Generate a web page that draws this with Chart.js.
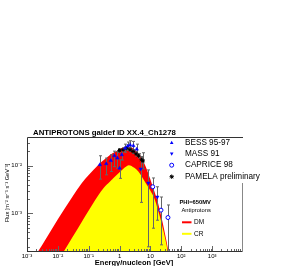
<!DOCTYPE html>
<html>
<head>
<meta charset="utf-8">
<script src="https://cdn.jsdelivr.net/npm/chart.js@4/dist/chart.umd.min.js"></script>
<style>
  html, body { margin: 0; padding: 0; background: #fff; }
  canvas { display: block; }
</style>
</head>
<body>
<canvas id="c" width="291" height="266"></canvas>
<script>
// model curves (energy in GeV, flux in m^-2 sr^-1 s^-1 GeV^-1)
const energy = [0.001, 0.003, 0.01, 0.03, 0.06, 0.1, 0.2, 0.3, 0.5, 0.7, 1, 1.5, 2, 3, 4, 5, 7, 10, 14, 17, 20, 25, 30, 35, 38, 45];
const dmFlux = [7e-5, 2.1e-4, 7.5e-4, 2.26e-3, 4.33e-3, 6.38e-3, 0.0102, 0.01285, 0.0169, 0.0191, 0.022, 0.0243, 0.0246, 0.022, 0.01845, 0.0151, 0.0096, 0.0051, 0.00267, 0.00182, 0.00119, 0.00064, 0.000361, 0.000219, 0.000158, 0.00005];
const crFlux = [9e-6, 2.8e-5, 1.0e-4, 3.2e-4, 6.7e-4, 1.15e-3, 2.35e-3, 3.34e-3, 4.67e-3, 5.85e-3, 0.0072, 0.0092, 0.0102, 0.009, 0.00756, 0.0062, 0.0043, 0.00296, 0.00191, 0.00126, 0.00088, 0.000498, 0.000299, 0.00018, 0.00011, 0.00003];

// measurements
const bessE = [0.23, 0.37, 0.52, 0.68, 0.85, 1.0, 1.18, 1.51, 1.84, 2.19, 2.8, 3.6];
const bessFlux = [0.0104, 0.0109, 0.0127, 0.016, 0.0143, 0.0088, 0.0168, 0.0231, 0.0255, 0.027, 0.026, 0.022];
const bessLow = [0.0052, 0.0064, 0.0075, 0.0095, 0.0088, 0.0054, 0.013, 0.019, 0.021, 0.022, 0.021, 0.017];
const bessHigh = [0.016, 0.0143, 0.0168, 0.020, 0.0197, 0.0132, 0.021, 0.028, 0.031, 0.033, 0.032, 0.028];

const massE = [4.85, 8.6, 16.7];
const massFlux = [0.0085, 0.0043, 0.0022];
const massLow = [0.0017, 0.0002, 0.00072];
const massHigh = [0.0154, 0.0081, 0.0036];

const capriceE = [11.9, 22, 37];
const capriceFlux = [0.0036, 0.00117, 0.00082];
const capriceLow = [0.00049, 0.00022, 0.00017];
const capriceHigh = [0.0055, 0.0022, 0.0015];

const pamelaE = [0.99, 1.3, 1.69, 2.19, 2.74, 3.42, 4.12, 5.15, 5.75];
const pamelaFlux = [0.0207, 0.0214, 0.023, 0.0214, 0.0197, 0.0176, 0.016, 0.0132, 0.0125];
const pamelaLow = [0.0188, 0.0195, 0.021, 0.0195, 0.0178, 0.0158, 0.0143, 0.0114, 0.0085];
const pamelaHigh = [0.0226, 0.0233, 0.025, 0.0233, 0.0216, 0.0194, 0.0177, 0.0152, 0.0185];

// axes
const xTickValues = [1e-3, 1e-2, 1e-1, 1, 10, 100, 1000];
const xTickLabels = ['10⁻³', '10⁻²', '10⁻¹', '1', '10', '10²', '10³'];
const yTickValues = [1e-3, 1e-2];
const yTickLabels = ['10⁻³', '10⁻²'];

const FONT = 'Liberation Sans, Arial, sans-serif';
const BLUE = '#0000ff';

const pts = (xs, ys) => xs.map((x, i) => ({ x: x, y: ys[i] }));

function pointSet(label, xs, ys, lo, hi, style) {
  return Object.assign({
    label: label,
    data: pts(xs, ys),
    showLine: false,
    errLow: lo,
    errHigh: hi,
    order: 0
  }, style);
}

const datasets = [
  pointSet('BESS 95-97', bessE, bessFlux, bessLow, bessHigh,
    { pointStyle: 'triangle', pointRadius: 2, backgroundColor: BLUE, borderColor: BLUE, borderWidth: 0.5 }),
  pointSet('MASS 91', massE, massFlux, massLow, massHigh,
    { pointStyle: 'triangle', rotation: 180, pointRadius: 2, backgroundColor: BLUE, borderColor: BLUE, borderWidth: 0.5 }),
  pointSet('CAPRICE 98', capriceE, capriceFlux, capriceLow, capriceHigh,
    { pointStyle: 'circle', pointRadius: 2, backgroundColor: '#fff', borderColor: BLUE, borderWidth: 1 }),
  pointSet('PAMELA preliminary', pamelaE, pamelaFlux, pamelaLow, pamelaHigh,
    { pointStyle: 'star', pointRadius: 2, backgroundColor: '#000', borderColor: '#000', borderWidth: 1 }),
  {
    label: 'CR',
    data: pts(energy, crFlux),
    borderWidth: 0,
    borderColor: '#ffff00',
    backgroundColor: '#ffff00',
    fill: 'start',
    pointRadius: 0,
    cubicInterpolationMode: 'monotone',
    order: 1
  },
  {
    label: 'DM',
    data: pts(energy, dmFlux),
    borderWidth: 0,
    borderColor: '#ff0000',
    backgroundColor: '#ff0000',
    fill: 'start',
    pointRadius: 0,
    cubicInterpolationMode: 'monotone',
    order: 2
  }
];

// error bars, drawn right after the CR band so markers sit on top
const errorBars = {
  id: 'errorBars',
  afterDatasetDraw(chart, args) {
    if (chart.data.datasets[args.index].label !== 'CR') return;
    const ctx = chart.ctx, xs = chart.scales.x, ys = chart.scales.y, a = chart.chartArea;
    ctx.save();
    ctx.beginPath();
    ctx.rect(a.left, a.top, a.right - a.left, a.bottom - a.top);
    ctx.clip();
    ctx.strokeStyle = '#666';
    ctx.lineWidth = 1;
    chart.data.datasets.forEach(ds => {
      if (!ds.errLow) return;
      ds.data.forEach((p, i) => {
        const x = Math.round(xs.getPixelForValue(p.x)) + 0.5;
        const y1 = ys.getPixelForValue(ds.errLow[i]);
        const y2 = ys.getPixelForValue(ds.errHigh[i]);
        ctx.beginPath();
        ctx.moveTo(x, y1); ctx.lineTo(x, y2);
        ctx.moveTo(x - 1.5, y1); ctx.lineTo(x + 1.5, y1);
        ctx.moveTo(x - 1.5, y2); ctx.lineTo(x + 1.5, y2);
        ctx.stroke();
      });
    });
    ctx.restore();
  }
};

function marker(ctx, kind, x, y) {
  ctx.save();
  if (kind === 'up' || kind === 'down') {
    const s = kind === 'up' ? -1 : 1;
    ctx.fillStyle = BLUE;
    ctx.beginPath();
    ctx.moveTo(x, y + s * 2);
    ctx.lineTo(x - 1.8, y - s * 1.2);
    ctx.lineTo(x + 1.8, y - s * 1.2);
    ctx.closePath();
    ctx.fill();
  } else if (kind === 'circle') {
    ctx.strokeStyle = BLUE;
    ctx.lineWidth = 1;
    ctx.beginPath();
    ctx.arc(x, y, 2, 0, Math.PI * 2);
    ctx.stroke();
  } else {
    ctx.strokeStyle = '#000';
    ctx.lineWidth = 1;
    ctx.beginPath();
    for (let k = 0; k < 4; k++) {
      const t = k * Math.PI / 4;
      ctx.moveTo(x - 2.2 * Math.cos(t), y - 2.2 * Math.sin(t));
      ctx.lineTo(x + 2.2 * Math.cos(t), y + 2.2 * Math.sin(t));
    }
    ctx.stroke();
  }
  ctx.restore();
}

const decor = {
  id: 'decor',
  afterDraw(chart) {
    const ctx = chart.ctx, a = chart.chartArea, xs = chart.scales.x, ys = chart.scales.y;
    ctx.save();

    // minor / major ticks, pointing inwards
    ctx.strokeStyle = '#666';
    ctx.lineWidth = 1;
    ctx.beginPath();
    for (let e = -3; e <= 3; e++) {
      for (let m = 1; m <= 9; m++) {
        const v = m * Math.pow(10, e);
        const x = Math.round(xs.getPixelForValue(v)) + 0.5;
        const len = m === 1 ? 6 : 3;
        ctx.moveTo(x, a.bottom); ctx.lineTo(x, a.bottom - len);
      }
    }
    for (let e = -4; e <= -2; e++) {
      for (let m = 1; m <= 9; m++) {
        const v = m * Math.pow(10, e);
        if (v < ys.min || v > ys.max) continue;
        const y = Math.round(ys.getPixelForValue(v)) + 0.5;
        const len = m === 1 ? 6 : 3;
        ctx.moveTo(a.left, y); ctx.lineTo(a.left + len, y);
      }
    }
    ctx.stroke();

    // frame
    ctx.strokeStyle = '#333';
    ctx.beginPath();
    ctx.moveTo(a.left + 0.5, a.bottom); ctx.lineTo(a.left + 0.5, a.top + 0.5);
    ctx.lineTo(a.right, a.top + 0.5);
    ctx.moveTo(a.left, a.bottom - 0.5); ctx.lineTo(a.right, a.bottom - 0.5);
    ctx.stroke();
    ctx.strokeStyle = '#888';
    ctx.beginPath();
    ctx.moveTo(a.right - 0.5, 183); ctx.lineTo(a.right - 0.5, a.bottom);
    ctx.stroke();

    // title
    ctx.fillStyle = '#000';
    ctx.textBaseline = 'middle';
    ctx.textAlign = 'left';
    ctx.font = 'bold 7.8px ' + FONT;
    ctx.fillText('ANTIPROTONS galdef ID XX.4_Ch1278', 33, 132.5);

    // axis titles
    ctx.textAlign = 'center';
    ctx.font = 'bold 7.5px ' + FONT;
    ctx.fillText('Energy/nucleon [GeV]', 134, 262.5);
    ctx.save();
    ctx.translate(7.5, 193);
    ctx.rotate(-Math.PI / 2);
    ctx.font = '5.6px ' + FONT;
    ctx.fillText('Flux [m⁻² sr⁻¹ s⁻¹ GeV⁻¹]', 0, 0);
    ctx.restore();

    // data legend
    ctx.fillStyle = '#fff';
    ctx.fillRect(163, 138.5, 84, 44);
    const entries = [['up', 'BESS 95-97', 142.7], ['down', 'MASS 91', 153.8], ['circle', 'CAPRICE 98', 165.2], ['star', 'PAMELA preliminary', 176.7]];
    ctx.font = '8.2px ' + FONT;
    ctx.textAlign = 'left';
    entries.forEach(en => {
      marker(ctx, en[0], 171.7, en[2]);
      ctx.fillStyle = '#000';
      ctx.fillText(en[1], 185, en[2]);
    });

    // model legend
    ctx.font = 'bold 5.8px ' + FONT;
    ctx.fillText('PHI=650MV', 179.5, 202.3);
    ctx.font = '5.8px ' + FONT;
    ctx.fillText('Antiprotons', 181.5, 210.5);
    ctx.font = '6.5px ' + FONT;
    ctx.lineWidth = 2;
    ctx.strokeStyle = '#ff0000';
    ctx.beginPath(); ctx.moveTo(182, 222.3); ctx.lineTo(191.5, 222.3); ctx.stroke();
    ctx.fillText('DM', 194, 222.5);
    ctx.strokeStyle = '#ffff00';
    ctx.beginPath(); ctx.moveTo(182, 233.8); ctx.lineTo(191.5, 233.8); ctx.stroke();
    ctx.fillText('CR', 194, 234);

    ctx.restore();
  }
};

new Chart(document.getElementById('c').getContext('2d'), {
  type: 'line',
  data: { datasets: datasets },
  options: {
    responsive: false,
    animation: false,
    devicePixelRatio: 1,
    layout: { padding: { left: 0, top: 137, right: 48, bottom: 0 } },
    plugins: { legend: { display: false }, tooltip: { enabled: false }, title: { display: false } },
    scales: {
      x: {
        type: 'logarithmic',
        min: 1e-3,
        max: 1e4,
        grid: { display: false, drawTicks: false },
        border: { display: false },
        afterBuildTicks: s => { s.ticks = xTickValues.map(v => ({ value: v })); },
        afterFit: s => { s.height = 14; },
        ticks: {
          autoSkip: false,
          maxRotation: 0,
          padding: 1,
          color: '#000',
          font: { family: FONT, size: 6 },
          callback: (v, i) => xTickLabels[i]
        }
      },
      y: {
        type: 'logarithmic',
        min: 1.56e-4,
        max: 0.0395,
        grid: { display: false, drawTicks: false },
        border: { display: false },
        afterBuildTicks: s => { s.ticks = yTickValues.map(v => ({ value: v })); },
        afterFit: s => { s.width = 27; },
        ticks: {
          autoSkip: false,
          padding: 5,
          color: '#000',
          font: { family: FONT, size: 6 },
          callback: (v, i) => yTickLabels[i]
        }
      }
    }
  },
  plugins: [errorBars, decor]
});
</script>
</body>
</html>
